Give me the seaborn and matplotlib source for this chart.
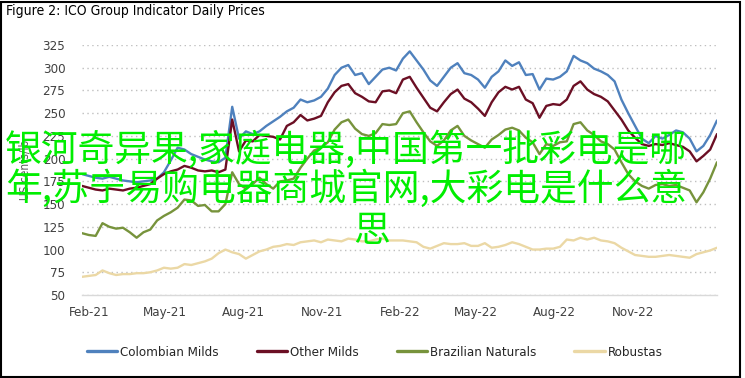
import pandas as pd
import numpy as np
import seaborn as sns
import matplotlib.pyplot as plt
from matplotlib.patches import Rectangle

# --------------------------------------
# Data (one value every 8 days)
# --------------------------------------
start_date = "2021-01-24"

colombian = [183, 181, 179, 178, 180, 178, 176, 175, 174, 175, 176, 178, 185, 198, 212, 210,
             205, 202, 199, 197, 196, 201, 257, 222, 230, 227, 230, 236, 241, 246, 252, 256,
             265, 262, 264, 268, 277, 292, 300, 303, 292, 294, 282, 290, 298, 300, 297, 310,
             318, 308, 298, 286, 280, 290, 300, 305, 294, 292, 287, 278, 290, 296, 308, 302,
             306, 292, 293, 276, 288, 287, 290, 296, 313, 308, 305, 299, 296, 292, 285, 265,
             250, 236, 222, 217, 225, 222, 226, 231, 229, 222, 208, 214, 226, 242]

other_milds = [170, 168, 166, 165, 167, 166, 165, 167, 168, 170, 172, 178, 183, 186, 188, 192,
               190, 187, 186, 187, 185, 188, 243, 208, 220, 219, 226, 225, 224, 221, 236, 240,
               248, 242, 244, 247, 262, 273, 280, 282, 272, 268, 263, 262, 274, 275, 272, 287,
               290, 278, 267, 256, 252, 262, 271, 276, 266, 262, 255, 247, 262, 273, 279, 276,
               279, 265, 261, 245, 258, 260, 259, 265, 280, 285, 276, 271, 268, 263, 253, 243,
               231, 223, 216, 214, 216, 215, 217, 215, 213, 208, 197, 203, 210, 227]

brazilian = [118, 116, 115, 129, 125, 123, 124, 119, 113, 119, 122, 132, 137, 141, 146, 155,
             154, 148, 149, 142, 142, 150, 185, 172, 167, 172, 179, 172, 167, 175, 176, 178,
             190, 200, 209, 212, 218, 232, 240, 243, 233, 227, 225, 228, 238, 237, 238, 250,
             252, 240, 229, 219, 214, 220, 231, 236, 225, 220, 216, 212, 221, 226, 232, 234,
             231, 223, 218, 205, 216, 214, 218, 219, 238, 240, 231, 226, 219, 216, 210, 196,
             183, 175, 170, 167, 171, 172, 170, 171, 168, 165, 152, 163, 178, 196]

robustas = [70, 71, 72, 77, 74, 72, 73, 73, 74, 74, 75, 77, 80, 79, 80, 84,
            83, 85, 87, 90, 96, 100, 97, 95, 90, 94, 98, 100, 103, 104, 106, 105,
            108, 109, 110, 108, 111, 110, 109, 112, 111, 109, 109, 111, 112, 110, 110, 110,
            109, 108, 103, 101, 104, 107, 106, 106, 107, 104, 104, 107, 102, 103, 105, 108,
            106, 103, 100, 100, 101, 101, 103, 111, 110, 113, 111, 113, 110, 109, 107, 102,
            98, 94, 93, 92, 92, 93, 94, 93, 92, 91, 95, 97, 99, 102]

series_names = ["Colombian Milds", "Other Milds", "Brazilian Naturals", "Robustas"]
series_colors = ["#4F81BD", "#6B0F24", "#77933C", "#EBD8A5"]

tick_dates = ["2021-02-01", "2021-05-01", "2021-08-01", "2021-11-01",
              "2022-02-01", "2022-05-01", "2022-08-01", "2022-11-01"]
tick_labels = ["Feb-21", "May-21", "Aug-21", "Nov-21", "Feb-22", "May-22", "Aug-22", "Nov-22"]
y_ticks = [50, 75, 100, 125, 150, 175, 200, 225, 250, 275, 300, 325]

title = "Figure 2: ICO Group Indicator Daily Prices"
overlay_lines = ["银河奇异果,家庭电器,中国第一批彩电是哪",
                 "年,苏宁易购电器商城官网,大彩电是什么意"]
overlay_last = "思"

# --------------------------------------
# Long-form table for seaborn
# --------------------------------------
dates = pd.date_range(start_date, periods=len(colombian), freq="8D")
frames = []
for name, vals in zip(series_names, [colombian, other_milds, brazilian, robustas]):
    frames.append(pd.DataFrame({"date": dates, "price": vals, "series": name}))
df = pd.concat(frames, ignore_index=True)

# --------------------------------------
# Plot
# --------------------------------------
sns.set_style("white")
plt.rcParams["font.family"] = ["DejaVu Sans"]
plt.rcParams["font.stretch"] = "condensed"

fig = plt.figure(figsize=(7.45, 3.78), dpi=100)
ax = fig.add_axes([82 / 745, 1 - 295 / 378, 635 / 745, 250 / 378])

sns.lineplot(data=df, x="date", y="price", hue="series", hue_order=series_names,
             palette=series_colors, linewidth=1.7, ax=ax, legend=True)

ax.set_xlim(dates[0], dates[-1])
ax.set_ylim(50, 325)
ax.set_yticks(y_ticks)
ax.set_xticks(pd.to_datetime(tick_dates))
ax.set_xticklabels(tick_labels)
ax.tick_params(axis="both", length=0, labelsize=9.5, colors="#404040")
ax.tick_params(axis="y", pad=12)
ax.tick_params(axis="x", pad=8)
ax.set_xlabel("")
ax.set_ylabel("US cents/lb", fontsize=8.5, color="#595959", labelpad=8)

ax.yaxis.grid(True, linestyle=(0, (1, 2.5)), color="#BFBFBF", linewidth=1)
for side in ["top", "right", "left"]:
    ax.spines[side].set_visible(False)
ax.spines["bottom"].set_color("#D9D9D9")
ax.spines["bottom"].set_linewidth(1)

handles, labels = ax.get_legend_handles_labels()
ax.get_legend().remove()
leg = fig.legend(handles, labels, loc="center", bbox_to_anchor=(0.503, 1 - 352 / 378),
                 ncol=4, frameon=False, fontsize=9.5, handlelength=2.3, handletextpad=0.2,
                 columnspacing=2.9)
for line in leg.get_lines():
    line.set_linewidth(2.4)
for t in leg.get_texts():
    t.set_color("#262626")

fig.text(6 / 745, 1 - 11 / 378, title, ha="left", va="center", fontsize=10, color="#000000")

# green overlay text over the plot
cjk = ["Noto Sans CJK SC", "DejaVu Sans"]
fig.text(5 / 745, 1 - 170 / 378, "\n".join(overlay_lines), ha="left", va="center",
         fontsize=26.5, color="#00EE00", linespacing=1.0, fontstretch="normal", family=cjk)
fig.text(372 / 745, 1 - 231 / 378, overlay_last, ha="center", va="center",
         fontsize=26.5, color="#00EE00", fontstretch="normal", family=cjk)

fig.patches.append(Rectangle((1 / 745, 1.5 / 378), 739 / 745, 375 / 378,
                             transform=fig.transFigure, fill=False,
                             edgecolor="black", linewidth=1.5))

plt.savefig("out.png", dpi=100)
